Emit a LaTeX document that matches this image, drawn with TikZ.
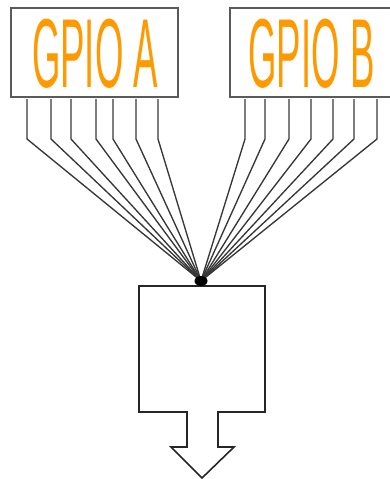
\documentclass[tikz,border=0pt]{standalone}
\usepackage{fontspec}
\setmainfont{Liberation Sans}
\usetikzlibrary{shapes.geometric}
\definecolor{portorange}{RGB}{255,153,0}
\definecolor{frame}{RGB}{90,90,90}
\definecolor{wire}{RGB}{55,55,55}
\tikzset{
  portbox/.style={draw=frame, line width=1.6pt, fill=white},
  portlabel/.style={text=portorange, inner sep=0pt, anchor=base},
  pin/.style={draw=wire, line width=1.35pt},
  hubdot/.style={ellipse, fill=black, inner sep=0pt, minimum width=13pt, minimum height=10pt},
  muxbody/.style={draw=black!85, line width=1.6pt, line join=miter},
}
\newcommand{\portfont}{\fontsize{98}{98}\selectfont}
\begin{document}
\begin{tikzpicture}[x=1pt,y=-1pt]
  \useasboundingbox (0,0) rectangle (389,479);

  % port boxes
  \draw[portbox] (11,8) rectangle (178,97);
  \draw[portbox] (230,8) rectangle (400,97);
  \node[portlabel] (labA) at (95,87) {\scalebox{0.373}[1]{\portfont GPIO A}};
  \node[portlabel] (labB) at (311.5,87) {\scalebox{0.373}[1]{\portfont GPIO B}};

  % hub where all lines meet
  \coordinate (hub) at (201,281);

  % pins of port A
  \foreach \x [count=\i] in {27,51,71,96,113,136,158} {
    \coordinate (a\i top) at (\x,99);
    \coordinate (a\i) at (\x,139);
    \draw[pin] (a\i top) -- (a\i) -- (hub);
  }
  % pins of port B
  \foreach \x [count=\i] in {245,265,289,311,333,354,377} {
    \coordinate (b\i top) at (\x,99);
    \coordinate (b\i) at (\x,139);
    \draw[pin] (b\i top) -- (b\i) -- (hub);
  }

  % block with outgoing arrow
  \draw[muxbody] (139,286) -- (265,286) -- (265,412) -- (218,412) -- (218,447)
    -- (234,447) -- (202,478) -- (171,447) -- (187,447) -- (187,412)
    -- (139,412) -- cycle;
  \node[hubdot] (dot) at (hub) {};
\end{tikzpicture}
\end{document}
